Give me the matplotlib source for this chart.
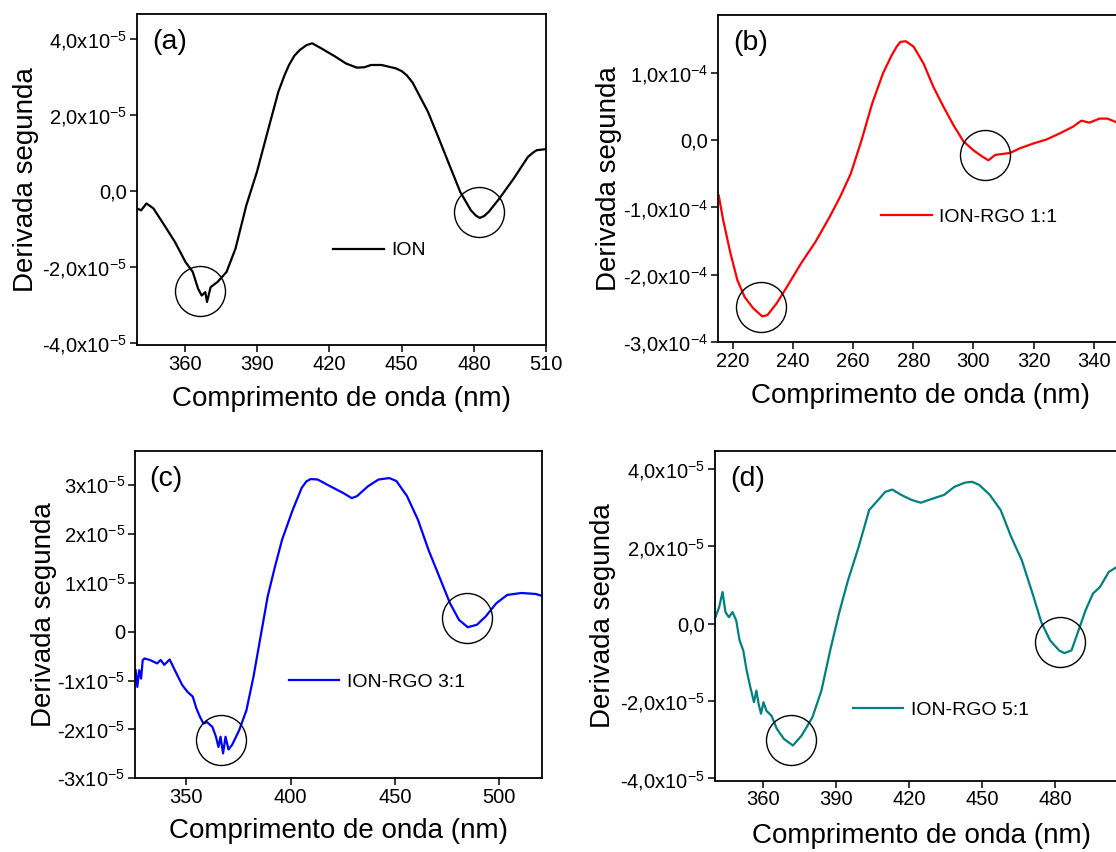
import numpy as np
import matplotlib
matplotlib.use("Agg")
from matplotlib import pyplot as plt
from matplotlib.ticker import FixedLocator, FuncFormatter

plt.rcParams['font.family'] = ['Liberation Sans', 'DejaVu Sans']
plt.rcParams['mathtext.default'] = 'regular'

# (a) ION
wl_a = [340.2, 342.0, 344.2, 347.1, 351.6, 356.0, 360.4, 363.4, 365.6, 367.1, 368.6,
        369.3, 370.8, 373.7, 377.4, 381.1, 385.6, 390.0, 394.4, 398.9, 401.5, 403.3,
        405.5, 407.7, 410.5, 412.9, 416.6, 422.5, 426.9, 431.4, 434.5, 437.3, 441.7,
        447.6, 450.0, 452.1, 454.5, 456.5, 460.9, 465.4, 469.8, 474.3, 478.7, 480.8,
        482.4, 484.2, 486.1, 490.5, 496.4, 502.3, 504.5, 506.0, 510.0]
d2_a = [-0.46, -0.51, -0.33, -0.46, -0.90, -1.34, -1.87, -2.13, -2.57, -2.75, -2.66,
        -2.92, -2.53, -2.39, -2.13, -1.52, -0.38, 0.50, 1.55, 2.61, 3.05, 3.31,
        3.55, 3.70, 3.83, 3.88, 3.75, 3.53, 3.35, 3.24, 3.25, 3.31, 3.31,
        3.22, 3.15, 3.04, 2.85, 2.61, 2.08, 1.38, 0.68, -0.03, -0.51, -0.65,
        -0.71, -0.66, -0.55, -0.20, 0.32, 0.89, 1.01, 1.07, 1.10]

# (b) ION-RGO 1:1
wl_b = [215.3, 216.8, 219.2, 221.5, 223.9, 226.8, 229.8, 231.5, 234.5, 238.0, 242.7,
        247.5, 252.2, 255.7, 259.2, 262.8, 266.3, 269.9, 272.8, 274.5, 275.7, 277.5,
        280.1, 283.4, 286.7, 290.0, 293.4, 296.7, 300.0, 302.8, 305.0, 307.2, 312.2,
        315.5, 319.9, 324.3, 328.7, 333.1, 335.9, 338.6, 341.9, 344.6, 347.3, 350.0]
d2_b = [-0.82, -1.19, -1.68, -2.08, -2.33, -2.50, -2.62, -2.60, -2.43, -2.18, -1.83,
        -1.51, -1.14, -0.84, -0.50, 0.00, 0.54, 0.99, 1.26, 1.39, 1.46, 1.47,
        1.39, 1.14, 0.79, 0.50, 0.22, -0.02, -0.15, -0.24, -0.30, -0.22, -0.19,
        -0.12, -0.05, 0.01, 0.10, 0.20, 0.29, 0.26, 0.32, 0.32, 0.27, 0.25]

# (c) ION-RGO 3:1
wl_c = [325.7, 326.5, 327.4, 328.3, 329.1, 330.0, 332.5, 336.0, 337.7, 339.4, 342.0,
        344.5, 348.0, 350.5, 353.1, 354.8, 356.5, 358.2, 359.9, 362.5, 364.2, 365.4,
        366.4, 367.6, 368.8, 370.2, 371.9, 375.3, 378.8, 382.2, 385.6, 389.0, 392.5,
        395.9, 401.0, 405.3, 407.5, 409.6, 413.0, 418.2, 425.0, 429.3, 431.8, 437.0,
        442.1, 447.3, 450.7, 455.8, 461.0, 466.1, 471.2, 476.4, 480.7, 484.9, 489.3,
        493.5, 498.6, 503.8, 510.6, 517.5, 520.5]
d2_c = [-0.79, -1.13, -0.79, -0.96, -0.58, -0.55, -0.58, -0.65, -0.58, -0.68, -0.57,
        -0.79, -1.09, -1.23, -1.33, -1.57, -1.74, -1.88, -1.85, -1.95, -2.15, -2.36,
        -2.15, -2.49, -2.15, -2.41, -2.32, -2.02, -1.61, -0.92, -0.10, 0.72, 1.33,
        1.88, 2.49, 2.94, 3.07, 3.12, 3.11, 2.99, 2.84, 2.73, 2.77, 2.97,
        3.11, 3.14, 3.08, 2.77, 2.29, 1.67, 1.13, 0.58, 0.24, 0.09, 0.14,
        0.31, 0.58, 0.75, 0.79, 0.77, 0.73]

# (d) ION-RGO 5:1
wl_d = [340.6, 342.1, 343.5, 344.7, 346.1, 347.6, 349.1, 350.5, 352.0, 353.4, 354.9,
        356.4, 357.4, 358.3, 359.3, 360.3, 361.5, 363.6, 365.8, 368.7, 372.4, 376.0,
        380.4, 384.1, 387.7, 391.3, 395.0, 399.4, 403.7, 407.4, 410.3, 413.2, 416.9,
        421.2, 424.9, 430.0, 434.4, 438.7, 443.1, 446.0, 448.9, 453.3, 457.7, 462.0,
        466.4, 470.8, 474.4, 478.0, 481.7, 483.9, 486.8, 489.7, 492.6, 495.6, 498.5,
        502.1, 505.5, 509.0]
d2_d = [0.17, 0.43, 0.82, 0.30, 0.17, 0.30, 0.09, -0.43, -0.69, -1.21, -1.64,
        -2.03, -1.73, -2.07, -2.33, -2.03, -2.25, -2.38, -2.72, -2.98, -3.15, -2.89,
        -2.42, -1.73, -0.69, 0.26, 1.12, 1.99, 2.94, 3.20, 3.41, 3.47, 3.33,
        3.20, 3.13, 3.24, 3.33, 3.54, 3.65, 3.67, 3.59, 3.33, 2.94, 2.25,
        1.64, 0.78, 0.04, -0.43, -0.69, -0.76, -0.69, -0.17, 0.35, 0.78, 0.95,
        1.34, 1.47, 1.60]

# circled minima
circ_a = ([366.4, 482.2], [-2.64, -0.55])
circ_b = ([229.5, 304.0], [-2.48, -0.22])
circ_c = ([366.8, 484.6], [-2.21, 0.27])
circ_d = ([371.7, 482.2], [-3.01, -0.48])

xt_a = [360, 390, 420, 450, 480, 510]
xt_b = [220, 240, 260, 280, 300, 320, 340]
xt_c = [350, 400, 450, 500]
xt_d = [360, 390, 420, 450, 480]
yt_a = [-4, -2, 0, 2, 4]
yt_b = [-3, -2, -1, 0, 1]
yt_c = [-3, -2, -1, 0, 1, 2, 3]
yt_d = [-4, -2, 0, 2, 4]

W, H = 1116.0, 852.0
fig = plt.figure(figsize=(W / 100, H / 100), dpi=100)


def fmt_dec(exp):
    def f(v, pos):
        if abs(v) < 1e-9:
            return '0,0'
        s = ('%.1f' % v).replace('.', ',')
        return s + 'x10$^{-%d}$' % exp
    return FuncFormatter(f)


def fmt_int(exp):
    def f(v, pos):
        if abs(v) < 1e-9:
            return '0'
        return '%d' % round(v) + 'x10$^{-%d}$' % exp
    return FuncFormatter(f)


def panel(box, x, y, color, label, tag, circ, xlim, ylim, xt, yt, yfmt,
          leg_xy, ylab_x, xlab_y):
    l, b, w, h = box
    ax = fig.add_axes([l / W, 1 - b / H, w / W, h / H])
    ax.plot(x, y, color=color, lw=1.6, label=label)
    ax.plot(circ[0], circ[1], 'o', ms=36, mfc='none', mec='black', mew=1.0)
    ax.set_xlim(*xlim)
    ax.set_ylim(*ylim)
    ax.xaxis.set_major_locator(FixedLocator(xt))
    ax.yaxis.set_major_locator(FixedLocator(yt))
    ax.yaxis.set_major_formatter(yfmt)
    ax.tick_params(direction='out', length=5, width=1.1, labelsize=14.5, pad=2)
    for sp in ax.spines.values():
        sp.set_linewidth(1.3)
    ax.set_xlabel('Comprimento de onda (nm)', fontsize=20)
    ax.set_ylabel('Derivada segunda', fontsize=20)
    ax.xaxis.set_label_coords(0.5, xlab_y)
    ax.yaxis.set_label_coords(ylab_x, 0.5)
    ax.text(0.037, 0.915, tag, transform=ax.transAxes, fontsize=20.5,
            va='center', ha='left')
    ax.legend(loc='center left', bbox_to_anchor=leg_xy, frameon=False,
              borderpad=0, borderaxespad=0, handlelength=2.6,
              handletextpad=0.4, fontsize=14)
    return ax


panel((136.8, 345, 409.6, 331), wl_a, d2_a, 'black', 'ION', '(a)', circ_a,
      (340.2, 510), (-4.05, 4.65), xt_a, yt_a, fmt_dec(5),
      (0.479, 0.285), -0.238, -0.125)
panel((717.8, 342, 406, 327), wl_b, d2_b, '#ff0000', 'ION-RGO 1:1', '(b)', circ_b,
      (215, 350), (-3.0, 1.86), xt_b, yt_b, fmt_dec(4),
      (0.402, 0.383), -0.236, -0.125)
panel((134.6, 778.3, 407.4, 327.6), wl_c, d2_c, '#0000ff', 'ION-RGO 3:1', '(c)', circ_c,
      (325.2, 520.5), (-3.0, 3.7), xt_c, yt_c, fmt_int(5),
      (0.378, 0.293), -0.191, -0.122)
panel((715, 780.7, 413, 330), wl_d, d2_d, '#008080', 'ION-RGO 5:1', '(d)', circ_d,
      (340.4, 510), (-4.06, 4.475), xt_d, yt_d, fmt_dec(5),
      (0.333, 0.214), -0.240, -0.128)

fig.savefig('out.png', dpi=100)
